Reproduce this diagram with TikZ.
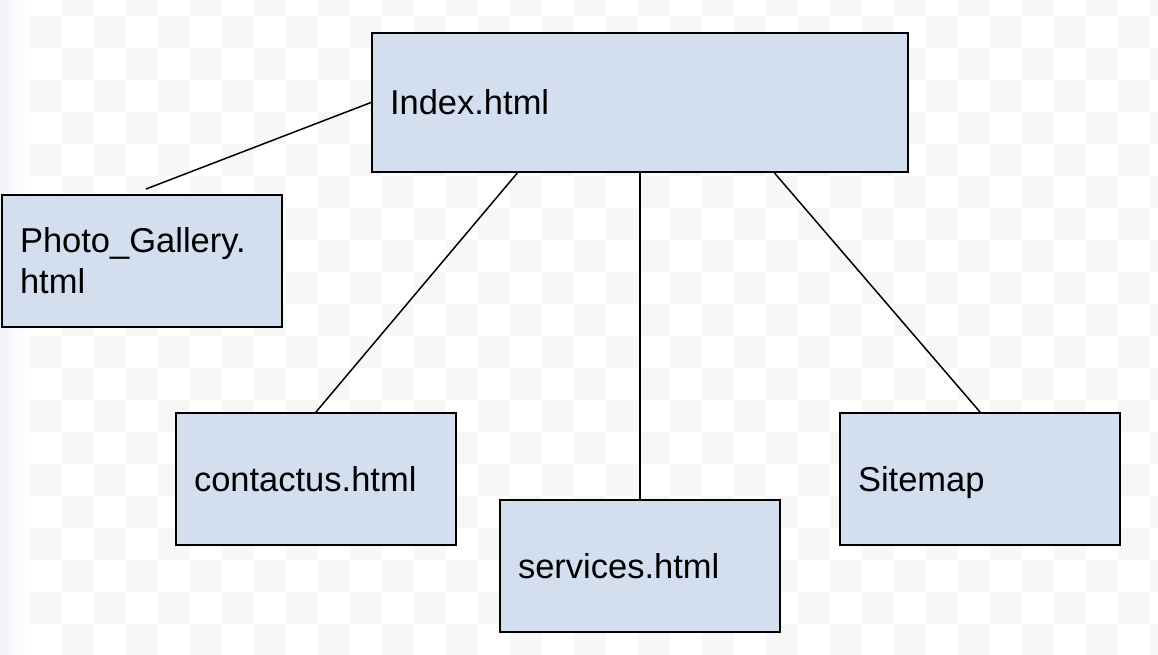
\documentclass[tikz,border=0pt]{standalone}
\usepackage{fontspec}
\setmainfont{Liberation Sans}
\usepackage{tikz}
\usetikzlibrary{calc}
\definecolor{pagefill}{HTML}{D3DFEF}
\definecolor{checkgray}{HTML}{F7F7F7}
\definecolor{edgestrip}{HTML}{F1F4F9}
\tikzset{
	pagebox/.style={
			draw, rectangle, fill=pagefill, line width=2pt,
			inner xsep=18pt, inner ysep=0pt,
			text width=244pt, minimum height=132pt, align=left,
			font=\fontsize{34.5}{41}\selectfont
		},
	link/.style={draw, line width=1.5pt}
}

\begin{document}
\begin{tikzpicture}[x=1pt, y=-1pt]
  \useasboundingbox (0,0) rectangle (1158,654);

  % background
  \fill[white] (0,0) rectangle (1158,654);
  \shade[left color=edgestrip, right color=white] (0,0) rectangle (30,654);
  \foreach \i in {0,...,35} {
    \foreach \j in {-1,...,20} {
      \pgfmathtruncatemacro{\parity}{mod(\i+\j+2,2)}
      \ifnum\parity=0
        \fill[checkgray] (30+32*\i,16+32*\j) rectangle ++(32,32);
      \fi
    }
  }

  \node[pagebox, text width=500pt, minimum height=139pt] (index) at (640,102.5) {Index.html};
  \node[pagebox] (photo) at (142,261) {Photo\_Gallery.\\html};
  \node[pagebox] (contact) at (316,479) {contactus.html};
  \node[pagebox] (services) at (640,566) {services.html};
  \node[pagebox, text depth=0pt] (sitemap) at (980,479) {Sitemap};

  \path (index.west) edge[link] ($(photo.north)+(4,-5)$);
  \path ($(index.south west)!0.272!(index.south east)$) edge[link] (contact.north);
  \path (index.south) edge[link] (services.north);
  \path ($(index.south west)!0.75!(index.south east)$) edge[link] (sitemap.north);

\end{tikzpicture}
\end{document}
